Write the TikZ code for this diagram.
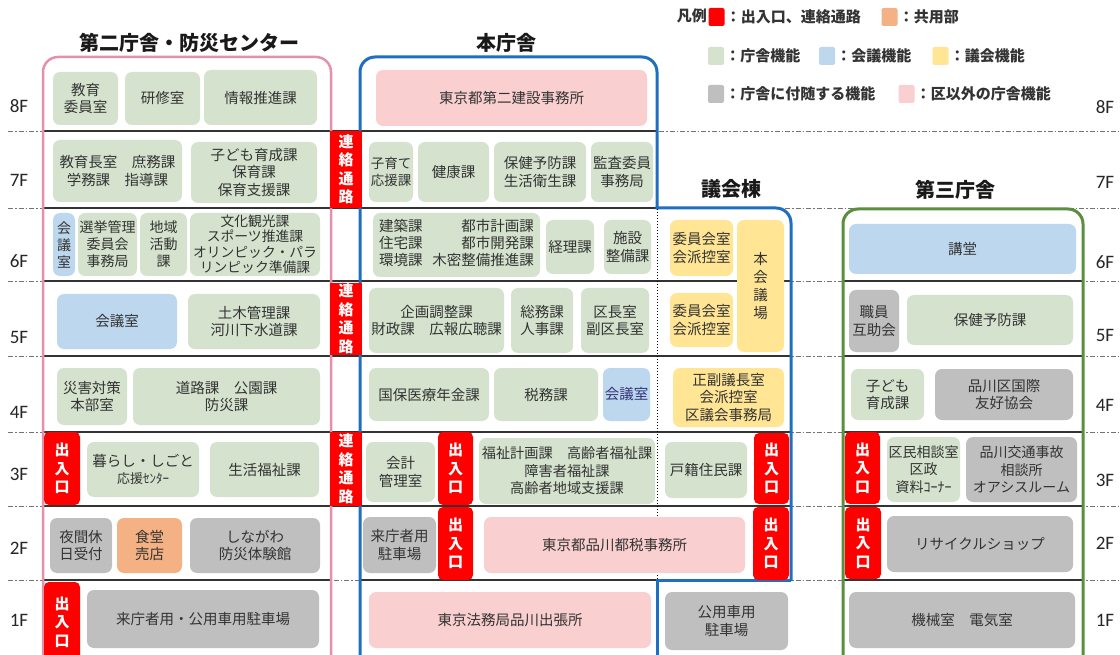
\documentclass[tikz,border=0pt]{standalone}
\usepackage{fontspec}
\setmainfont{Noto Sans CJK JP}
\newfontfamily\flr{Carlito}
\definecolor{cg}{HTML}{D5E3CE}
\definecolor{cb}{HTML}{BDD7EE}
\definecolor{cy}{HTML}{FFE594}
\definecolor{ca}{HTML}{BFBFBF}
\definecolor{cp}{HTML}{F9CFCF}
\definecolor{co}{HTML}{F4B183}
\definecolor{cr}{HTML}{FF0000}
\definecolor{txt}{HTML}{333333}
\definecolor{opink}{HTML}{E591AC}
\definecolor{oblue}{HTML}{1F6FC0}
\definecolor{ogreen}{HTML}{5B8E3F}
\newcommand\fs[2]{\fontsize{#1}{#2}\selectfont}
\newcommand\roombox[7]{\node[#1,minimum width={#5-#3},minimum height={#6-#4}] (#2) at ({(#3+#5)/2},{(#4+#6)/2}) {#7};}
\tikzset{
  roomb/.style={rounded corners=7pt, inner sep=0pt, align=center, text=txt, font=\fs{14.5}{17.5}},
  gbx/.style={roomb, fill=cg},
  bbx/.style={roomb, fill=cb},
  ybx/.style={roomb, fill=cy},
  abx/.style={roomb, fill=ca},
  pbx/.style={roomb, fill=cp},
  obx/.style={roomb, fill=co},
  rbx/.style={roomb, fill=cr, text=white, rounded corners=5pt, font=\bfseries\fs{15}{18.5}},
  lbx/.style={rbx, rounded corners=0pt},
  dd/.style={black!55, line width=0.9pt, dash pattern=on 5pt off 2pt on 1.5pt off 2pt},
  fl/.style={black!80, line width=1.3pt},
  ttl/.style={font=\bfseries\fs{20}{24}, text=black!90},
  flab/.style={font=\flr\fs{19}{22}, text=black!85},
  lsq/.style={minimum width=16pt, minimum height=18pt, inner sep=0pt, rounded corners=2pt},
  ltx/.style={anchor=west, inner sep=1pt, font=\bfseries\fs{15}{18}, text=txt},
}
\begin{document}
\begin{tikzpicture}[x=1pt,y=-1pt]
\useasboundingbox[fill=white] (0,0) rectangle (1120,655);
% floor lines
\foreach \yy in {131,208,281,356,432,506,580} \draw[dd] (8,\yy) -- (1120,\yy);
\draw[fl] (43,131) -- (657,131);
\draw[fl] (43,208) -- (657,208);
\foreach \yy in {281,356,432,506} {\draw[fl] (43,\yy) -- (791,\yy); \draw[fl] (843,\yy) -- (1083,\yy);}
\draw[fl] (43,580) -- (331,580);
\draw[fl] (360,580) -- (657,580);
\draw[fl] (843,580) -- (1083,580);
% building outlines
\draw[opink, line width=2.5pt, rounded corners=15pt] (43,660) -- (43,57) -- (331,57) -- (331,660);
\draw[oblue, line width=3pt, rounded corners=15pt] (360,660) -- (360,57) -- (657,57) -- (657,209.5);
\draw[oblue, line width=3pt, rounded corners=15pt] (655.5,208) -- (791,208) -- (791,581);
\draw[oblue, line width=3pt] (791,580) -- (657,580) -- (657,660);
\draw[black, line width=1pt, dotted] (657,209) -- (657,579);
\draw[ogreen, line width=3pt, rounded corners=15pt] (843,660) -- (843,209) -- (1083,209) -- (1083,660);
% titles
\node[ttl] (t2) at (189,43) {第二庁舎・防災センター};
\node[ttl] (t1) at (506,43) {本庁舎};
\node[ttl] (tg) at (731,189) {議会棟};
\node[ttl] (t3) at (955,190) {第三庁舎};
% floor labels
\foreach \n/\yl/\yr in {8/106/107,7/180/182,6/261/262,5/337/335,4/412/405,3/474/480,2/548/543,1/620/620}{
  \node[flab] (fl\n) at (19,\yl) {\n F};
  \node[flab] (fr\n) at (1105,\yr) {\n F};
}
% 8F
\roombox{gbx}{e8a}{53}{72}{118}{125}{教育\\委員室}
\roombox{gbx}{e8b}{125}{72}{200}{125}{研修室}
\roombox{gbx}{e8c}{204}{70}{317}{125}{情報推進課}
\roombox{pbx}{h8}{376}{70}{647}{126}{東京都第二建設事務所}
% 7F
\roombox{lbx}{l7}{330}{131}{362}{208}{連\\絡\\通\\路}
\roombox{gbx}{e7a}{53}{140}{182}{202}{教育長室　庶務課\\学務課　指導課}
\roombox{gbx}{e7b}{191}{142}{317}{203}{子ども育成課\\保育課\\保育支援課}
\roombox{gbx,font=\fs{13.5}{17}}{h7a}{369}{142}{413}{202}{子育て\\応援課}
\roombox{gbx}{h7b}{418}{142}{489}{202}{健康課}
\roombox{gbx}{h7c}{494}{142}{586}{202}{保健予防課\\生活衛生課}
\roombox{gbx}{h7d}{591}{142}{653}{202}{監査委員\\事務局}
% 6F
\roombox{bbx,font=\fs{14}{17}}{e6a}{53}{213}{75}{276}{会\\議\\室}
\roombox{gbx,font=\fs{14}{17}}{e6b}{78}{213}{137}{276}{選挙管理\\委員会\\事務局}
\roombox{gbx,font=\fs{14}{17}}{e6c}{140}{213}{187}{276}{地域\\活動\\課}
\roombox{gbx,font=\fs{13.8}{15.5}}{e6d}{190}{213}{320}{276}{文化観光課\\スポーツ推進課\\オリンピック・パラ\\リンピック準備課}
\roombox{gbx,font=\fs{14.5}{17}}{h6a}{373}{213}{540}{277}{\begin{tabular}{@{}l@{\hspace{10pt}}r@{}}建築課&都市計画課\\住宅課&都市開発課\\環境課&木密整備推進課\end{tabular}}
\roombox{gbx}{h6b}{546}{220}{594}{274}{経理課}
\roombox{gbx}{h6c}{604}{220}{651}{274}{施設\\整備課}
\roombox{ybx}{k6a}{670}{220}{733}{276}{委員会室\\会派控室}
\roombox{ybx,font=\fs{14.5}{18}}{k65}{737}{220}{784}{352}{本\\会\\議\\場}
\roombox{bbx}{s6}{849}{224}{1076}{274}{講堂}
% 5F
\roombox{lbx}{l5}{330}{283}{362}{355}{連\\絡\\通\\路}
\roombox{bbx}{e5a}{57}{294}{177}{349}{会議室}
\roombox{gbx}{e5b}{188}{294}{320}{349}{土木管理課\\河川下水道課}
\roombox{gbx}{h5a}{369}{288}{504}{353}{企画調整課\\財政課　広報広聴課}
\roombox{gbx}{h5b}{511}{288}{573}{353}{総務課\\人事課}
\roombox{gbx}{h5c}{581}{288}{649}{353}{区長室\\副区長室}
\roombox{ybx}{k5a}{670}{293}{733}{347}{委員会室\\会派控室}
\roombox{abx}{s5a}{849}{290}{899}{352}{職員\\互助会}
\roombox{gbx}{s5b}{907}{295}{1073}{345}{保健予防課}
% 4F
\roombox{gbx}{e4a}{57}{368}{127}{425}{災害対策\\本部室}
\roombox{gbx}{e4b}{133}{368}{320}{425}{道路課　公園課\\防災課}
\roombox{gbx}{h4a}{369}{368}{489}{421}{国保医療年金課}
\roombox{gbx}{h4b}{494}{368}{598}{421}{税務課}
\roombox{bbx,text=black!55!blue!60!gray}{h4c}{603}{368}{650}{421}{会議室}
\roombox{ybx}{k4}{673}{368}{784}{427}{正副議長室\\会派控室\\区議会事務局}
\roombox{gbx}{s4a}{851}{369}{924}{420}{子ども\\育成課}
\roombox{abx}{s4b}{935}{369}{1073}{420}{品川区国際\\友好協会}
% 3F
\roombox{rbx}{e3r}{44}{432}{80}{505}{出\\入\\口}
\roombox{gbx}{e3a}{87}{442}{199}{497}{暮らし・しごと\\{\fs{13}{16}応援ｾﾝﾀｰ}}
\roombox{gbx}{e3b}{210}{442}{319}{497}{生活福祉課}
\roombox{lbx}{l3}{330}{432}{362}{506}{連\\絡\\通\\路}
\roombox{gbx}{h3a}{366}{442}{435}{502}{会計\\管理室}
\roombox{rbx}{h3r}{438}{432}{473}{505}{出\\入\\口}
\roombox{gbx,font=\fs{14.2}{17.5}}{h3b}{479}{438}{655}{504}{福祉計画課　高齢者福祉課\\障害者福祉課\\高齢者地域支援課}
\roombox{gbx}{k3}{665}{442}{747}{498}{戸籍住民課}
\roombox{rbx}{k3r}{754}{433}{789}{504}{出\\入\\口}
\roombox{rbx}{s3r}{845}{432}{880}{504}{出\\入\\口}
\roombox{gbx,font=\fs{14}{17.5}}{s3a}{887}{437}{960}{502}{区民相談室\\区政\\資料ｺｰﾅｰ}
\roombox{abx,font=\fs{14}{17.5}}{s3b}{966}{437}{1077}{502}{品川交通事故\\相談所\\オアシスルーム}
% 2F
\roombox{abx}{e2a}{50}{518}{112}{573}{夜間休\\日受付}
\roombox{obx}{e2b}{117}{518}{182}{573}{食堂\\売店}
\roombox{abx}{e2c}{190}{518}{320}{573}{しながわ\\防災体験館}
\roombox{abx}{h2a}{363}{517}{436}{573}{来庁者用\\駐車場}
\roombox{rbx}{h2r}{438}{507}{473}{580}{出\\入\\口}
\roombox{pbx}{h2b}{484}{517}{745}{573}{東京都品川都税事務所}
\roombox{rbx}{k2r}{753}{507}{789}{580}{出\\入\\口}
\roombox{rbx}{s2r}{845}{507}{881}{579}{出\\入\\口}
\roombox{abx}{s2a}{887}{516}{1073}{572}{リサイクルショップ}
% 1F
\roombox{rbx}{e1r}{44}{582}{80}{662}{出\\入\\口}
\roombox{abx}{e1a}{87}{590}{319}{648}{来庁者用・公用車用駐車場}
\roombox{pbx}{h1}{369}{592}{651}{648}{東京法務局品川出張所}
\roombox{abx}{k1}{665}{592}{788}{650}{公用車用\\駐車場}
\roombox{abx}{s1}{849}{592}{1075}{648}{機械室　電気室}
% legend
\node[ltx, anchor=east] (lgh) at (708,16) {凡例};
\node[lsq, fill=cr] (lq1) at (716.5,17) {};
\node[ltx] (lt1) at (lq1.east) {：出入口、連絡通路};
\node[lsq, fill=co] (lq2) at (889.5,17) {};
\node[ltx] (lt2) at (lq2.east) {：共用部};
\node[lsq, fill=cg] (lq3) at (716,56) {};
\node[ltx] (lt3) at (lq3.east) {：庁舎機能};
\node[lsq, fill=cb] (lq4) at (827,56) {};
\node[ltx] (lt4) at (lq4.east) {：会議機能};
\node[lsq, fill=cy] (lq5) at (940.5,56) {};
\node[ltx] (lt5) at (lq5.east) {：議会機能};
\node[lsq, fill=ca] (lq6) at (716,94) {};
\node[ltx] (lt6) at (lq6.east) {：庁舎に付随する機能};
\node[lsq, fill=cp] (lq7) at (906.5,94) {};
\node[ltx] (lt7) at (lq7.east) {：区以外の庁舎機能};
\end{tikzpicture}
\end{document}
